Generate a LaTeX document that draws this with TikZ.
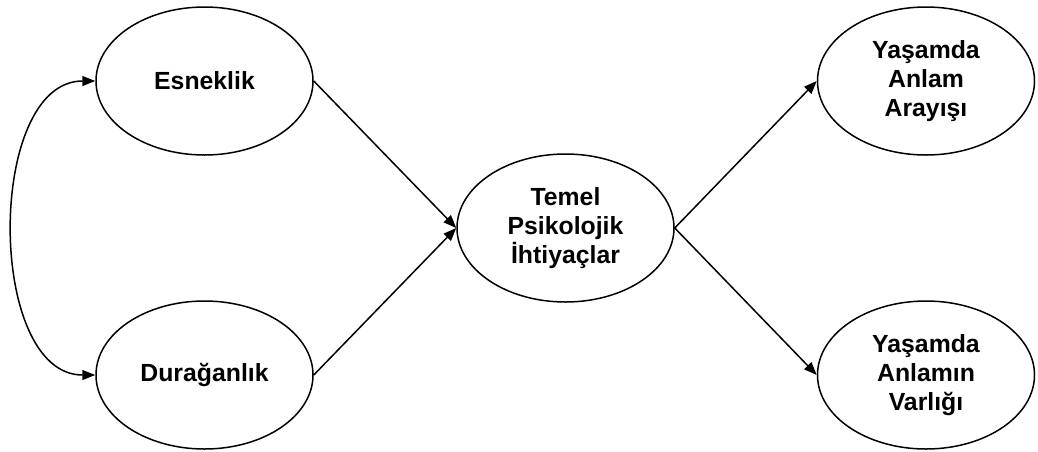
\documentclass[tikz,border=0pt]{standalone}
\usepackage{fontspec}
\setmainfont{Liberation Sans}
\usetikzlibrary{shapes.geometric,arrows.meta}
\tikzset{
  ell/.style={ellipse, draw, line width=1.5pt, minimum width=217pt, minimum height=148pt, inner sep=0pt, align=center, font=\fontsize{24.8}{29}\selectfont\bfseries},
  conn/.style={line width=1.5pt, -{Triangle[length=13pt,width=10pt]}},
}
\begin{document}
\begin{tikzpicture}[x=1pt,y=-1pt]
\useasboundingbox (0,0) rectangle (1038,451);
\node[ell] (esn) at (204.5,81) {Esneklik};
\node[ell] (dur) at (204.5,375) {Durağanlık};
\node[ell] (tem) at (565.5,228) {Temel\\Psikolojik\\İhtiyaçlar};
\node[ell] (ara) at (926,81) {Yaşamda\\Anlam\\Arayışı};
\node[ell] (var) at (926,375) {Yaşamda\\Anlamın\\Varlığı};
\draw[conn] (esn.east) -- (tem.west);
\draw[conn] (dur.east) -- (tem.west);
\draw[conn] (tem.east) -- (ara.west);
\draw[conn] (tem.east) -- (var.west);
\draw[line width=1.5pt, {Triangle[length=13pt,width=10pt]}-{Triangle[length=13pt,width=10pt]}] (esn.west) .. controls (-14,81) and (-14,375) .. (dur.west);
\end{tikzpicture}
\end{document}
